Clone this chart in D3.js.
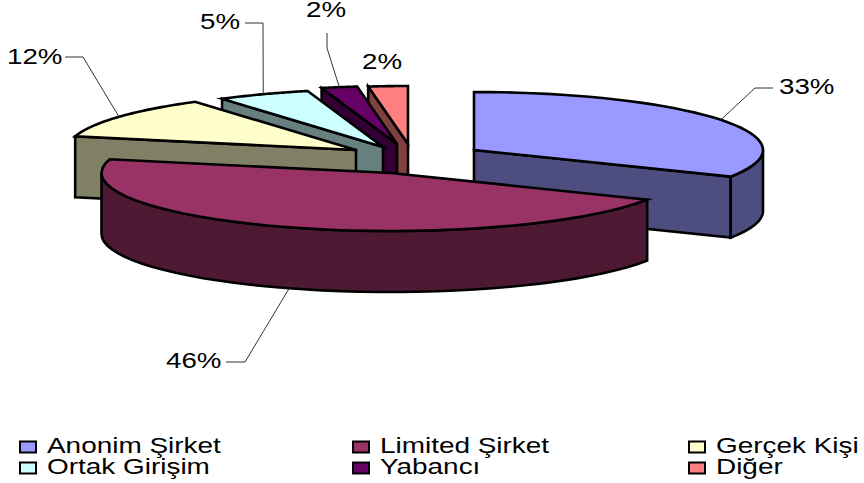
<!DOCTYPE html>
<html><head><meta charset="utf-8">
<script src="https://cdnjs.cloudflare.com/ajax/libs/d3/7.8.5/d3.min.js"></script>
<style>html,body{margin:0;padding:0;background:#fff}svg{display:block}
text{font-family:"Liberation Sans",Arial,sans-serif;fill:#000}</style></head>
<body><svg id="c" width="864" height="483"></svg>
<script>
const categories = ["Anonim Şirket","Limited Şirket","Gerçek Kişi","Ortak Girişim","Yabancı","Diğer"];
const values = [32.6,46.2,11.8,5.2,2.0,2.2];
const topColors = ["#9999FF","#993366","#FFFFCC","#CCFFFF","#660066","#FF8080"];
const wallColors = ["#4D4D80","#4D1933","#808066","#668080","#330033","#804040"];
const drawOrder = [5,4,3,2,0,1];

// layout
const rx = 289, ry = 58, depth = 61;
const apexX = [474,390.5,356,383,397,408];
const apexY = [150,173,150,147,144,144];
const labelBox = [ // anchor x, baseline y, elbow points
  {x:779,y:94,elbow:[[773,88],[755,88]]},
  {x:166,y:368,elbow:[[226,362],[245,362]]},
  {x:7,y:64,elbow:[[65,57],[83,57]]},
  {x:200,y:29,elbow:[[245,23],[263,23]]},
  {x:306,y:17,elbow:[[327,33],[327,48]]},
  {x:362,y:69,elbow:null}
];
const legendCols = [19,352,688], legendRows = [453,474];
const stretch = 1.26, legendStretch = 1.27;

const svg = d3.select("#c");
const total = d3.sum(values);
const pct = d3.format(".0%");
const arcs = d3.pie().sort(null).startAngle(0).endAngle(2*Math.PI)(values);
const line = d3.line();
const pt = (i,a,dy=0)=>[apexX[i]+rx*Math.sin(a), apexY[i]-ry*Math.cos(a)+dy];
const samples = (a,b)=>d3.range(0,41).map(k=>a+(b-a)*k/40);
const LW = 2.6;
const poly = (pts,fill)=>svg.append("path").attr("d",line(pts)+"Z").attr("fill",fill)
  .attr("stroke","#000").attr("stroke-width",LW).attr("stroke-linejoin","miter").attr("stroke-miterlimit",6);

drawOrder.forEach(i=>{
  const {startAngle:a,endAngle:b} = arcs[i];
  const apex=[apexX[i],apexY[i]], apexB=[apexX[i],apexY[i]+depth];
  if(Math.sin(a)<0) poly([pt(i,a),apex,apexB,pt(i,a,depth)],wallColors[i]);
  if(Math.sin(b)>0) poly([apex,pt(i,b),pt(i,b,depth),apexB],wallColors[i]);
  const lo=Math.max(a,Math.PI/2), hi=Math.min(b,3*Math.PI/2);
  if(hi>lo){
    const s=samples(lo,hi);
    poly(s.map(t=>pt(i,t)).concat(s.slice().reverse().map(t=>pt(i,t,depth))),wallColors[i]);
  }
  poly([apex].concat(samples(a,b).map(t=>pt(i,t))),topColors[i]);
});

// leader lines & labels
arcs.forEach((d,i)=>{
  const L=labelBox[i], m=(d.startAngle+d.endAngle)/2;
  if(L.elbow){
    const front=Math.cos(m)<0;
    const end=pt(i,m,front?depth:0);
    svg.append("path").attr("d",line(L.elbow.concat([end]))).attr("fill","none")
      .attr("stroke","#333").attr("stroke-width",1);
  }
  svg.append("text").attr("transform",`translate(${L.x},${L.y}) scale(${stretch},1)`)
    .attr("font-size",22).text(pct(values[i]/total));
});

// legend
categories.forEach((c,i)=>{
  const col=legendCols[i%3], base=legendRows[Math.floor(i/3)];
  svg.append("rect").attr("x",col+1).attr("y",base-11.5).attr("width",16).attr("height",11)
    .attr("fill",topColors[i]).attr("stroke","#000").attr("stroke-width",2);
  svg.append("text").attr("transform",`translate(${col+28},${base}) scale(${legendStretch},1)`)
    .attr("font-size",22).text(c);
});
</script></body></html>
